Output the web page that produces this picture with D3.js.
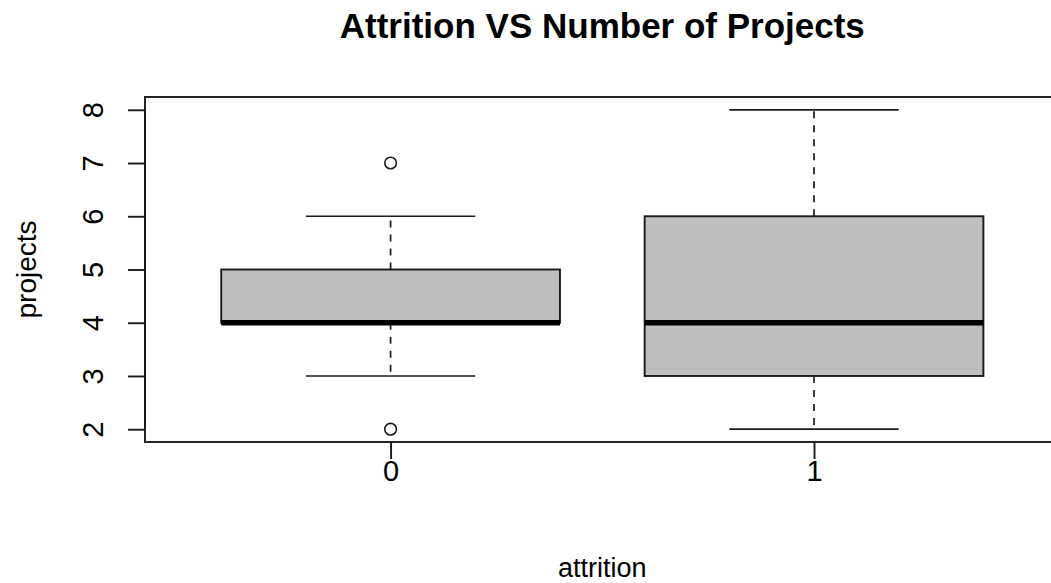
<!DOCTYPE html>
<html>
<head>
<meta charset="utf-8">
<script src="https://cdn.jsdelivr.net/npm/d3@7"></script>
<style>
  html, body { margin: 0; padding: 0; background: #fff; }
  svg { display: block; }
  text { font-family: "Liberation Sans", Arial, sans-serif; fill: #000; }
</style>
</head>
<body>
<svg id="chart" width="1051" height="583"></svg>
<script>
// Box-plot summary per attrition group
const categories = ["0", "1"];
const lowerWhisker = [3, 2];
const q1 = [4, 3];
const median = [4, 4];
const q3 = [5, 6];
const upperWhisker = [6, 8];
const outliers = [[2, 7], []];
const yTicks = [2, 3, 4, 5, 6, 7, 8];

const svg = d3.select("#chart");

// Plot region (the frame runs past the right edge of the canvas)
const plotLeft = 145, plotRight = 1059.6, plotTop = 97, plotBottom = 442;

const x = d3.scaleLinear().domain([0.42, 2.58]).range([plotLeft, plotRight]);
const y = d3.scaleLinear().domain([1.76, 8.24]).range([plotBottom, plotTop]);

const boxHalf = 0.4, capHalf = 0.2;
const stroke = "#1a1a1a";

const groups = categories.map((c, i) => ({
  cat: c, pos: i + 1,
  lo: lowerWhisker[i], q1: q1[i], med: median[i], q3: q3[i], hi: upperWhisker[i],
  out: outliers[i]
}));

const g = svg.append("g");

// Whiskers (dashed), drawn outward from the box edges
g.selectAll(".whisker-up").data(groups).join("line")
  .attr("x1", d => x(d.pos)).attr("x2", d => x(d.pos))
  .attr("y1", d => y(d.q3)).attr("y2", d => y(d.hi))
  .attr("stroke", stroke).attr("stroke-width", 1.7)
  .attr("stroke-dasharray", "7,7");
g.selectAll(".whisker-down").data(groups).join("line")
  .attr("x1", d => x(d.pos)).attr("x2", d => x(d.pos))
  .attr("y1", d => y(d.q1)).attr("y2", d => y(d.lo))
  .attr("stroke", stroke).attr("stroke-width", 1.7)
  .attr("stroke-dasharray", "7,7");

// Whisker caps
["hi", "lo"].forEach(k => {
  g.selectAll(".cap-" + k).data(groups).join("line")
    .attr("x1", d => x(d.pos - capHalf)).attr("x2", d => x(d.pos + capHalf))
    .attr("y1", d => y(d[k])).attr("y2", d => y(d[k]))
    .attr("stroke", stroke).attr("stroke-width", 1.7);
});

// Boxes
g.selectAll(".box").data(groups).join("rect")
  .attr("x", d => x(d.pos - boxHalf))
  .attr("width", d => x(d.pos + boxHalf) - x(d.pos - boxHalf))
  .attr("y", d => y(d.q3))
  .attr("height", d => y(d.q1) - y(d.q3))
  .attr("fill", "#bebebe")
  .attr("stroke", stroke).attr("stroke-width", 1.9);

// Medians
g.selectAll(".median").data(groups).join("line")
  .attr("x1", d => x(d.pos - boxHalf)).attr("x2", d => x(d.pos + boxHalf))
  .attr("y1", d => y(d.med)).attr("y2", d => y(d.med))
  .attr("stroke", "#000").attr("stroke-width", 5.5);

// Outliers
const outPts = groups.flatMap(d => d.out.map(v => ({ pos: d.pos, v })));
g.selectAll(".outlier").data(outPts).join("circle")
  .attr("cx", d => x(d.pos)).attr("cy", d => y(d.v))
  .attr("r", 5.8)
  .attr("fill", "none").attr("stroke", stroke).attr("stroke-width", 1.6);

// Plot frame
svg.append("rect")
  .attr("x", plotLeft).attr("y", plotTop)
  .attr("width", plotRight - plotLeft).attr("height", plotBottom - plotTop)
  .attr("fill", "none").attr("stroke", stroke).attr("stroke-width", 1.9);

// Y axis
const yAxis = svg.append("g").attr("transform", `translate(${plotLeft},0)`)
  .call(d3.axisLeft(y).tickValues(yTicks).tickSize(17).tickPadding(0).tickFormat(d3.format("d")));
yAxis.select(".domain").attr("d", `M0,${y(yTicks[0])}V${y(yTicks[yTicks.length - 1])}`)
  .attr("stroke", stroke).attr("stroke-width", 1.9);
yAxis.selectAll(".tick line").attr("stroke", stroke).attr("stroke-width", 1.9);
yAxis.selectAll(".tick text")
  .attr("x", null).attr("dy", null)
  .attr("transform", "translate(-42,0) rotate(-90)")
  .attr("text-anchor", "middle")
  .attr("y", 0)
  .style("font-size", "29px")
  .style("font-family", "'Liberation Sans', Arial, sans-serif")
  .attr("fill", "#000");

// X axis
const xAxis = svg.append("g").attr("transform", `translate(0,${plotBottom})`)
  .call(d3.axisBottom(x).tickValues(groups.map(d => d.pos)).tickSize(17).tickPadding(0)
    .tickFormat((d, i) => categories[i]));
xAxis.select(".domain").remove();
xAxis.selectAll(".tick line").attr("stroke", stroke).attr("stroke-width", 1.9);
xAxis.selectAll(".tick text")
  .attr("dy", null).attr("y", 39)
  .style("font-size", "29px")
  .style("font-family", "'Liberation Sans', Arial, sans-serif")
  .attr("fill", "#000");

// Titles
svg.append("text")
  .attr("x", (plotLeft + plotRight) / 2).attr("y", 38)
  .attr("text-anchor", "middle")
  .style("font-size", "35px").style("font-weight", "bold")
  .text("Attrition VS Number of Projects");

svg.append("text")
  .attr("x", (plotLeft + plotRight) / 2).attr("y", 577)
  .attr("text-anchor", "middle")
  .style("font-size", "27px")
  .text("attrition");

svg.append("text")
  .attr("transform", `translate(36,${(plotTop + plotBottom) / 2}) rotate(-90)`)
  .attr("text-anchor", "middle")
  .style("font-size", "28px")
  .text("projects");
</script>
</body>
</html>
